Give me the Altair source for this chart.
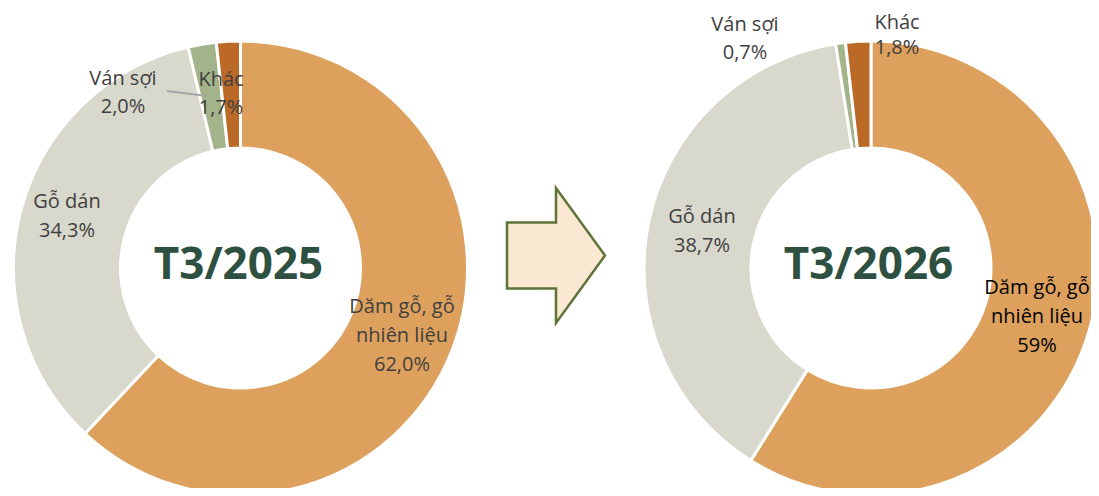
import altair as alt
import pandas as pd

# ---- data ----
categories = ["Dăm gỗ, gỗ nhiên liệu", "Gỗ dán", "Ván sợi", "Khác"]
values_2025 = [62.0, 34.3, 2.0, 1.7]
values_2026 = [59.0, 38.7, 0.7, 1.8]
period_labels = ["T3/2025", "T3/2026"]
pct_labels_2025 = ["62,0%", "34,3%", "2,0%", "1,7%"]
pct_labels_2026 = ["59%", "38,7%", "0,7%", "1,8%"]

colors = ["#DDA05D", "#D9D8CD", "#A3B38A", "#BA6A26"]

FONT = "Open Sans"
LABEL_SIZE = 20
LABEL_COLOR = "#404040"
CENTER_COLOR = "#2E5040"

df25 = pd.DataFrame({"cat": categories, "value": values_2025, "idx": range(4)})
df26 = pd.DataFrame({"cat": categories, "value": values_2026, "idx": range(4)})

color_scale = alt.Scale(domain=categories, range=colors)


def donut(df, cx, cy):
    return alt.Chart(df).mark_arc(
        innerRadius=120, outerRadius=227, stroke="white", strokeWidth=3
    ).encode(
        theta=alt.Theta("value:Q", stack=True),
        color=alt.Color("cat:N", scale=color_scale, legend=None),
        order=alt.Order("idx:Q"),
        x=alt.value(cx),
        y=alt.value(cy),
    )


anchor = pd.DataFrame({"a": [0]})


def txt(text, x, y, size=LABEL_SIZE, color=LABEL_COLOR, weight="normal"):
    return alt.Chart(anchor).mark_text(
        text=text, font=FONT, fontSize=size, color=color, fontWeight=weight,
        align="center", baseline="middle"
    ).encode(x=alt.value(x), y=alt.value(y))


def block(lines, x, y0, lh=29, **kw):
    return [txt(t, x, y0 + i * lh, **kw) for i, t in enumerate(lines)]


layers = [donut(df25, 232.5, 260), donut(df26, 863, 260)]

# arrow
arrow_path = "M -0.726 -0.49 L 0 -0.49 L 0 -1 L 0.726 0 L 0 1 L 0 0.49 L -0.726 0.49 Z"
layers.append(
    alt.Chart(anchor).mark_point(
        shape=arrow_path, size=135 * 135, filled=True, fill="#FBE8D2",
        stroke="#5E7338", strokeWidth=2.5, opacity=1
    ).encode(x=alt.value(548), y=alt.value(247.5))
)

# leader line (left chart, Ván sợi)
layers.append(
    alt.Chart(anchor).mark_rule(color="#A6A6A6", strokeWidth=1.8).encode(
        x=alt.value(159), y=alt.value(83), x2=alt.value(199), y2=alt.value(88)
    )
)

# left labels
layers += block(["Dăm gỗ, gỗ", "nhiên liệu", pct_labels_2025[0]], 394, 299)
layers += block(["Gỗ dán", pct_labels_2025[1]], 59, 194)
layers += block(["Ván sợi", pct_labels_2025[2]], 115, 71, lh=28)
layers += block(["Khác", pct_labels_2025[3]], 213, 72, lh=28)
layers.append(txt(period_labels[0], 230.5, 258, size=44, color=CENTER_COLOR, weight="bold"))

# right labels
layers += block(["Dăm gỗ, gỗ", "nhiên liệu", pct_labels_2026[0]], 1029, 280, color="#000000")
layers += block(["Gỗ dán", pct_labels_2026[1]], 694, 209)
layers += block(["Ván sợi", pct_labels_2026[2]], 737, 17, lh=28)
layers += block(["Khác", pct_labels_2026[3]], 889, 15, lh=25)
layers.append(txt(period_labels[1], 860.5, 258, size=44, color=CENTER_COLOR, weight="bold"))

chart = alt.layer(*layers).resolve_scale(theta="independent").properties(
    width=1083, height=480, padding=0,
    autosize=alt.AutoSizeParams(type="none"),
).configure_view(stroke=None)

chart.save("out.html", embed_options={"renderer": "svg", "actions": False})
